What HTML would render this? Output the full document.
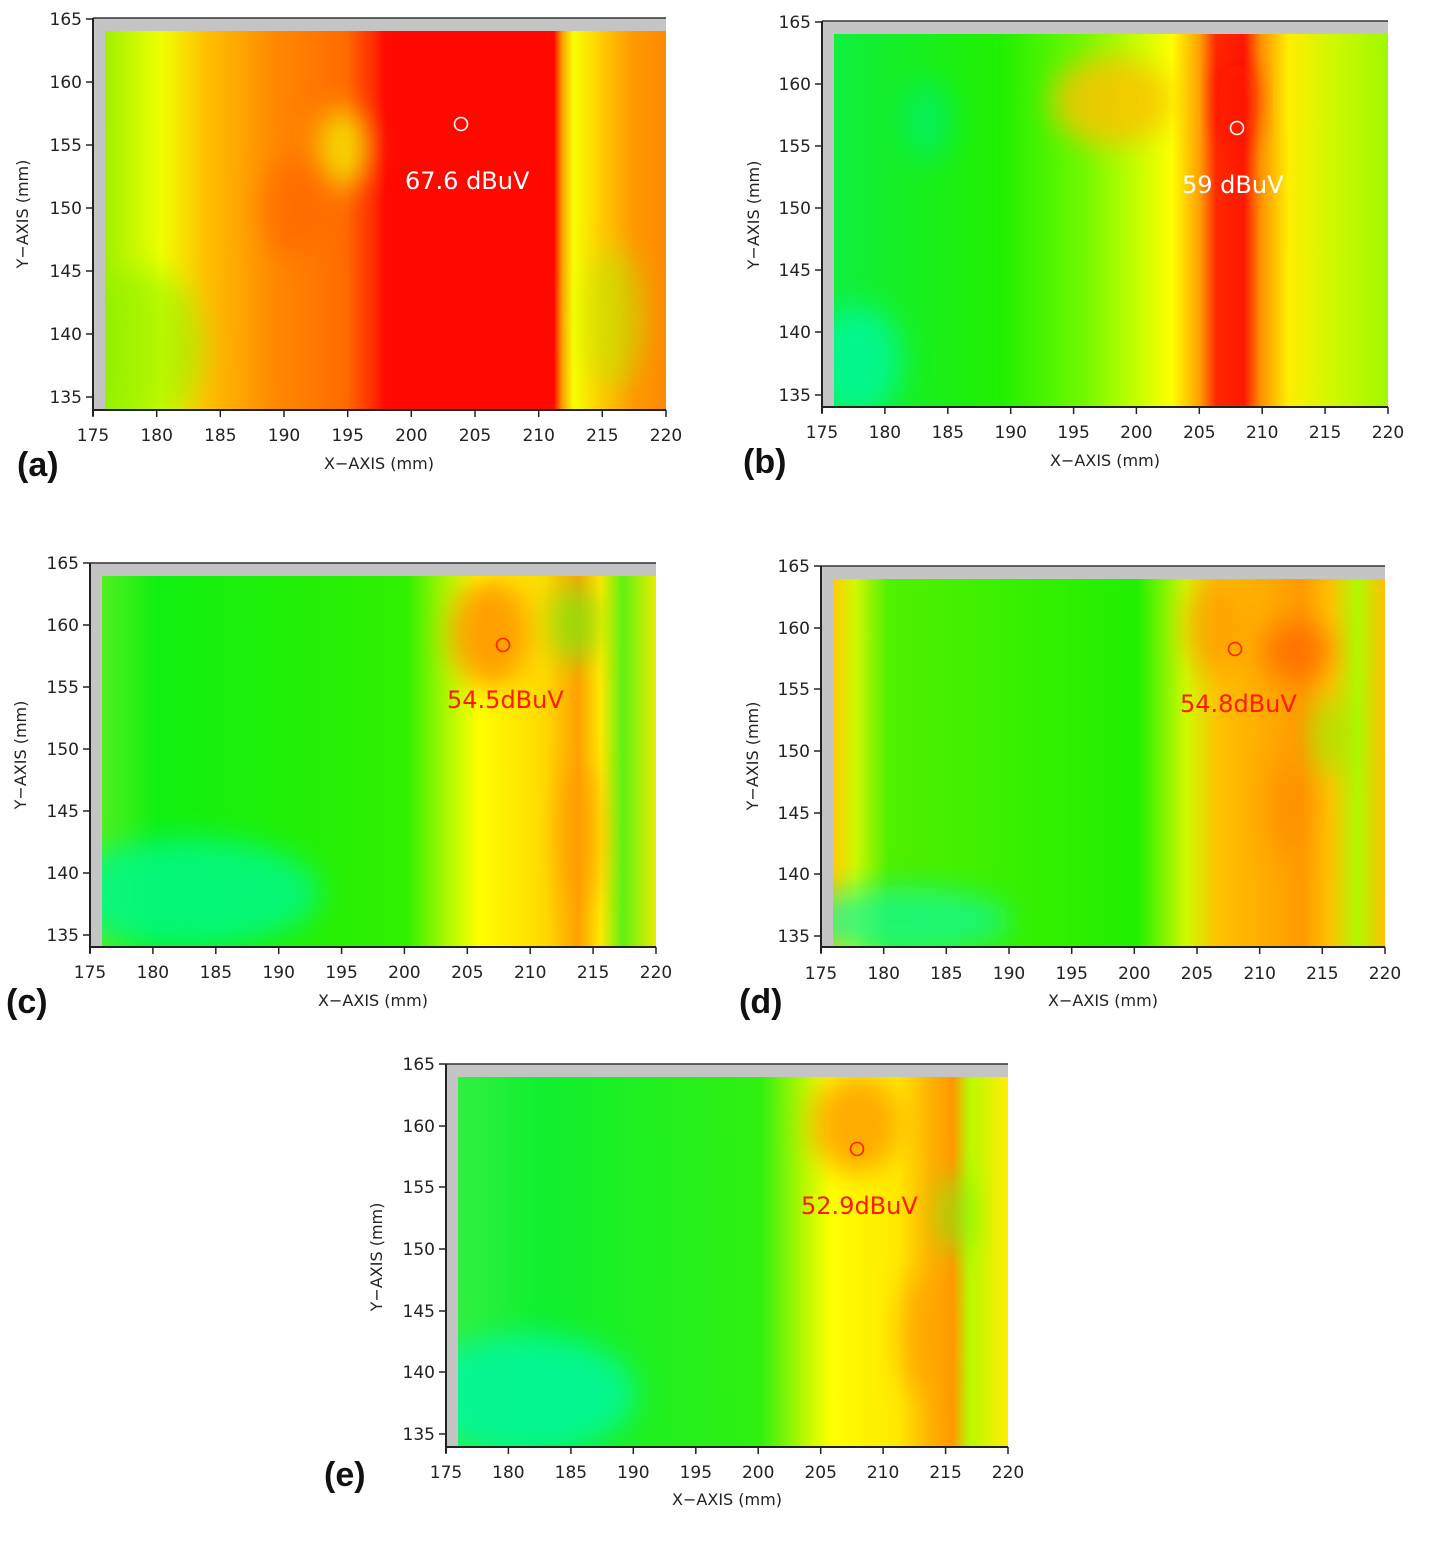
<!DOCTYPE html>
<html><head><meta charset="utf-8"><style>
html,body{margin:0;padding:0;background:#fff}
svg text{font-family:"DejaVu Sans","Liberation Sans",sans-serif}
.t{font-size:17px;fill:#222}
.at{font-size:16px;fill:#222}
.pl{font-family:"Liberation Sans",sans-serif;font-size:34px;fill:#111;font-weight:bold}
</style></head><body>
<svg width="1440" height="1548" xmlns="http://www.w3.org/2000/svg">
<defs>
<filter id="bl" x="-50%" y="-50%" width="200%" height="200%"><feGaussianBlur stdDeviation="14"/></filter>
<linearGradient id="ga" x1="0" x2="1" y1="0" y2="0">
<stop offset="0" stop-color="#a0f000"/><stop offset="0.1" stop-color="#f0ff00"/><stop offset="0.18" stop-color="#ffc000"/>
<stop offset="0.3" stop-color="#ff8a00"/><stop offset="0.43" stop-color="#ff6a00"/><stop offset="0.48" stop-color="#ff2a00"/>
<stop offset="0.5" stop-color="#ff0800"/><stop offset="0.8" stop-color="#ff0800"/><stop offset="0.815" stop-color="#ffa000"/>
<stop offset="0.835" stop-color="#f8ff00"/><stop offset="0.88" stop-color="#ffd000"/><stop offset="0.94" stop-color="#ff9a00"/><stop offset="1" stop-color="#ff8800"/>
</linearGradient>
<linearGradient id="gb" x1="0" x2="1" y1="0" y2="0">
<stop offset="0" stop-color="#10f040"/><stop offset="0.3" stop-color="#20f000"/><stop offset="0.45" stop-color="#70f800"/>
<stop offset="0.55" stop-color="#c8ff00"/><stop offset="0.61" stop-color="#ffff00"/><stop offset="0.66" stop-color="#ffa000"/>
<stop offset="0.69" stop-color="#ff2800"/><stop offset="0.74" stop-color="#ff1800"/><stop offset="0.77" stop-color="#ff9000"/>
<stop offset="0.82" stop-color="#ffee00"/><stop offset="0.9" stop-color="#d0f800"/><stop offset="1" stop-color="#a0f800"/>
</linearGradient>
<linearGradient id="gc" x1="0" x2="1" y1="0" y2="0">
<stop offset="0" stop-color="#50f020"/><stop offset="0.1" stop-color="#10f010"/><stop offset="0.55" stop-color="#30f000"/>
<stop offset="0.62" stop-color="#a8f800"/><stop offset="0.68" stop-color="#ffff00"/><stop offset="0.8" stop-color="#ffd800"/>
<stop offset="0.86" stop-color="#ffa000"/><stop offset="0.9" stop-color="#ffe800"/><stop offset="0.94" stop-color="#60f010"/><stop offset="1" stop-color="#e8ee00"/>
</linearGradient>
<linearGradient id="gd" x1="0" x2="1" y1="0" y2="0">
<stop offset="0" stop-color="#ffcc00"/><stop offset="0.04" stop-color="#d0f800"/><stop offset="0.1" stop-color="#50f000"/>
<stop offset="0.55" stop-color="#20f000"/><stop offset="0.64" stop-color="#d0f800"/><stop offset="0.7" stop-color="#ffc000"/>
<stop offset="0.85" stop-color="#ff9a00"/><stop offset="0.9" stop-color="#ffc000"/><stop offset="0.95" stop-color="#b0f800"/><stop offset="1" stop-color="#ffc000"/>
</linearGradient>
<linearGradient id="ge" x1="0" x2="1" y1="0" y2="0">
<stop offset="0" stop-color="#30f040"/><stop offset="0.15" stop-color="#10f030"/><stop offset="0.55" stop-color="#30f010"/>
<stop offset="0.63" stop-color="#b8f800"/><stop offset="0.68" stop-color="#ffff00"/><stop offset="0.8" stop-color="#ffe800"/>
<stop offset="0.86" stop-color="#ffb000"/><stop offset="0.9" stop-color="#ff9800"/><stop offset="0.93" stop-color="#b8f800"/><stop offset="1" stop-color="#ffee00"/>
</linearGradient>
<clipPath id="ca"><rect x="12" y="13" width="561" height="379"/></clipPath>
<clipPath id="cb"><rect x="12" y="13" width="554" height="373"/></clipPath>
<clipPath id="cc"><rect x="12" y="13" width="554" height="371"/></clipPath>
<clipPath id="cd"><rect x="12" y="13" width="552" height="368"/></clipPath>
<clipPath id="ce"><rect x="12" y="13" width="550" height="370"/></clipPath>
</defs>

<!-- Panel a -->
<g transform="translate(93,18)">
<rect x="0" y="0" width="573" height="392" fill="#c4c4c4"/>
<rect x="12" y="13" width="561" height="379" fill="url(#ga)"/>
<g clip-path="url(#ca)">
<ellipse cx="50" cy="330" rx="60" ry="80" fill="#80f000" opacity="0.5" filter="url(#bl)"/>
<ellipse cx="250" cy="130" rx="25" ry="40" fill="#f4f000" opacity="0.8" filter="url(#bl)"/>
<ellipse cx="200" cy="190" rx="30" ry="50" fill="#ff6000" opacity="0.6" filter="url(#bl)"/>
<ellipse cx="520" cy="300" rx="30" ry="70" fill="#b0f000" opacity="0.5" filter="url(#bl)"/>
</g>
<line x1="0" y1="0" x2="573" y2="0" stroke="#333" stroke-width="1.5"/>
<line x1="0" y1="0" x2="0" y2="398" stroke="#222" stroke-width="2"/>
<line x1="0" y1="392" x2="573" y2="392" stroke="#222" stroke-width="2"/>
<circle cx="368" cy="106" r="6.5" fill="none" stroke="#fff" stroke-width="1.6"/>
<text x="312" y="171" font-size="24" fill="#fff" font-family="Liberation Sans,sans-serif">67.6 dBuV</text>
<g stroke="#222" stroke-width="1.5">
<line x1="0" y1="392" x2="0" y2="399"/><line x1="63.7" y1="392" x2="63.7" y2="399"/><line x1="127.3" y1="392" x2="127.3" y2="399"/><line x1="191" y1="392" x2="191" y2="399"/><line x1="254.7" y1="392" x2="254.7" y2="399"/><line x1="318.3" y1="392" x2="318.3" y2="399"/><line x1="382" y1="392" x2="382" y2="399"/><line x1="445.7" y1="392" x2="445.7" y2="399"/><line x1="509.3" y1="392" x2="509.3" y2="399"/><line x1="573" y1="392" x2="573" y2="399"/>
<line x1="-7" y1="1" x2="0" y2="1"/><line x1="-7" y1="64" x2="0" y2="64"/><line x1="-7" y1="127" x2="0" y2="127"/><line x1="-7" y1="190" x2="0" y2="190"/><line x1="-7" y1="253" x2="0" y2="253"/><line x1="-7" y1="316" x2="0" y2="316"/><line x1="-7" y1="379" x2="0" y2="379"/>
</g>
<g class="t" text-anchor="middle"><text x="0" y="423">175</text><text x="63.7" y="423">180</text><text x="127.3" y="423">185</text><text x="191" y="423">190</text><text x="254.7" y="423">195</text><text x="318.3" y="423">200</text><text x="382" y="423">205</text><text x="445.7" y="423">210</text><text x="509.3" y="423">215</text><text x="573" y="423">220</text></g>
<g class="t" text-anchor="end"><text x="-11" y="7">165</text><text x="-11" y="70">160</text><text x="-11" y="133">155</text><text x="-11" y="196">150</text><text x="-11" y="259">145</text><text x="-11" y="322">140</text><text x="-11" y="385">135</text></g>
<text class="at" x="286" y="451" text-anchor="middle">X−AXIS (mm)</text>
<text class="at" transform="translate(-65,196) rotate(-90)" text-anchor="middle">Y−AXIS (mm)</text>
<text class="pl" x="-76" y="458">(a)</text>
</g>

<!-- Panel b -->
<g transform="translate(822,21)">
<rect x="0" y="0" width="566" height="386" fill="#c4c4c4"/>
<rect x="12" y="13" width="554" height="373" fill="url(#gb)"/>
<g clip-path="url(#cb)">
<ellipse cx="35" cy="340" rx="45" ry="55" fill="#00f8a0" opacity="0.8" filter="url(#bl)"/>
<ellipse cx="290" cy="80" rx="60" ry="45" fill="#ffc000" opacity="0.8" filter="url(#bl)"/>
<ellipse cx="105" cy="100" rx="25" ry="40" fill="#00f070" opacity="0.7" filter="url(#bl)"/>
<ellipse cx="415" cy="80" rx="18" ry="40" fill="#ff1000" opacity="0.7" filter="url(#bl)"/>
</g>
<line x1="0" y1="0" x2="566" y2="0" stroke="#333" stroke-width="1.5"/>
<line x1="0" y1="0" x2="0" y2="392" stroke="#222" stroke-width="2"/>
<line x1="0" y1="386" x2="566" y2="386" stroke="#222" stroke-width="2"/>
<circle cx="415" cy="107" r="6.5" fill="none" stroke="#fff" stroke-width="1.6"/>
<text x="360" y="172" font-size="24" fill="#fff" font-family="Liberation Sans,sans-serif">59 dBuV</text>
<g stroke="#222" stroke-width="1.5">
<line x1="0" y1="386" x2="0" y2="393"/><line x1="62.9" y1="386" x2="62.9" y2="393"/><line x1="125.8" y1="386" x2="125.8" y2="393"/><line x1="188.7" y1="386" x2="188.7" y2="393"/><line x1="251.6" y1="386" x2="251.6" y2="393"/><line x1="314.4" y1="386" x2="314.4" y2="393"/><line x1="377.3" y1="386" x2="377.3" y2="393"/><line x1="440.2" y1="386" x2="440.2" y2="393"/><line x1="503.1" y1="386" x2="503.1" y2="393"/><line x1="566" y1="386" x2="566" y2="393"/>
<line x1="-7" y1="1" x2="0" y2="1"/><line x1="-7" y1="63" x2="0" y2="63"/><line x1="-7" y1="125" x2="0" y2="125"/><line x1="-7" y1="187" x2="0" y2="187"/><line x1="-7" y1="249" x2="0" y2="249"/><line x1="-7" y1="311" x2="0" y2="311"/><line x1="-7" y1="374" x2="0" y2="374"/>
</g>
<g class="t" text-anchor="middle"><text x="0" y="417">175</text><text x="62.9" y="417">180</text><text x="125.8" y="417">185</text><text x="188.7" y="417">190</text><text x="251.6" y="417">195</text><text x="314.4" y="417">200</text><text x="377.3" y="417">205</text><text x="440.2" y="417">210</text><text x="503.1" y="417">215</text><text x="566" y="417">220</text></g>
<g class="t" text-anchor="end"><text x="-11" y="7">165</text><text x="-11" y="69">160</text><text x="-11" y="131">155</text><text x="-11" y="193">150</text><text x="-11" y="255">145</text><text x="-11" y="317">140</text><text x="-11" y="380">135</text></g>
<text class="at" x="283" y="445" text-anchor="middle">X−AXIS (mm)</text>
<text class="at" transform="translate(-63,194) rotate(-90)" text-anchor="middle">Y−AXIS (mm)</text>
<text class="pl" x="-79" y="452">(b)</text>
</g>

<!-- Panel c -->
<g transform="translate(90,563)">
<rect x="0" y="0" width="566" height="384" fill="#c4c4c4"/>
<rect x="12" y="13" width="554" height="371" fill="url(#gc)"/>
<g clip-path="url(#cc)">
<ellipse cx="100" cy="330" rx="130" ry="55" fill="#00f890" opacity="0.8" filter="url(#bl)"/>
<ellipse cx="400" cy="70" rx="40" ry="55" fill="#ff9000" opacity="0.85" filter="url(#bl)"/>
<ellipse cx="490" cy="270" rx="20" ry="70" fill="#ff9a00" opacity="0.6" filter="url(#bl)"/>
<ellipse cx="485" cy="60" rx="25" ry="40" fill="#70f010" opacity="0.7" filter="url(#bl)"/>
</g>
<line x1="0" y1="0" x2="566" y2="0" stroke="#333" stroke-width="1.5"/>
<line x1="0" y1="0" x2="0" y2="390" stroke="#222" stroke-width="2"/>
<line x1="0" y1="384" x2="566" y2="384" stroke="#222" stroke-width="2"/>
<circle cx="413" cy="82" r="6.5" fill="none" stroke="#ff2000" stroke-width="1.6"/>
<text x="357" y="145" font-size="24" fill="#ff1a00" font-family="Liberation Sans,sans-serif">54.5dBuV</text>
<g stroke="#222" stroke-width="1.5">
<line x1="0" y1="384" x2="0" y2="391"/><line x1="62.9" y1="384" x2="62.9" y2="391"/><line x1="125.8" y1="384" x2="125.8" y2="391"/><line x1="188.7" y1="384" x2="188.7" y2="391"/><line x1="251.6" y1="384" x2="251.6" y2="391"/><line x1="314.4" y1="384" x2="314.4" y2="391"/><line x1="377.3" y1="384" x2="377.3" y2="391"/><line x1="440.2" y1="384" x2="440.2" y2="391"/><line x1="503.1" y1="384" x2="503.1" y2="391"/><line x1="566" y1="384" x2="566" y2="391"/>
<line x1="-7" y1="0" x2="0" y2="0"/><line x1="-7" y1="62" x2="0" y2="62"/><line x1="-7" y1="124" x2="0" y2="124"/><line x1="-7" y1="186" x2="0" y2="186"/><line x1="-7" y1="248" x2="0" y2="248"/><line x1="-7" y1="310" x2="0" y2="310"/><line x1="-7" y1="372" x2="0" y2="372"/>
</g>
<g class="t" text-anchor="middle"><text x="0" y="415">175</text><text x="62.9" y="415">180</text><text x="125.8" y="415">185</text><text x="188.7" y="415">190</text><text x="251.6" y="415">195</text><text x="314.4" y="415">200</text><text x="377.3" y="415">205</text><text x="440.2" y="415">210</text><text x="503.1" y="415">215</text><text x="566" y="415">220</text></g>
<g class="t" text-anchor="end"><text x="-11" y="6">165</text><text x="-11" y="68">160</text><text x="-11" y="130">155</text><text x="-11" y="192">150</text><text x="-11" y="254">145</text><text x="-11" y="316">140</text><text x="-11" y="378">135</text></g>
<text class="at" x="283" y="443" text-anchor="middle">X−AXIS (mm)</text>
<text class="at" transform="translate(-64,192) rotate(-90)" text-anchor="middle">Y−AXIS (mm)</text>
<text class="pl" x="-84" y="450">(c)</text>
</g>

<!-- Panel d -->
<g transform="translate(821,566)">
<rect x="0" y="0" width="564" height="381" fill="#c4c4c4"/>
<rect x="12" y="13" width="552" height="368" fill="url(#gd)"/>
<g clip-path="url(#cd)">
<ellipse cx="80" cy="355" rx="110" ry="35" fill="#10f8a0" opacity="0.7" filter="url(#bl)"/>
<ellipse cx="475" cy="85" rx="35" ry="30" fill="#ff6a00" opacity="0.8" filter="url(#bl)"/>
<ellipse cx="395" cy="60" rx="30" ry="50" fill="#ff9a00" opacity="0.7" filter="url(#bl)"/>
<ellipse cx="465" cy="240" rx="20" ry="50" fill="#ff8a00" opacity="0.6" filter="url(#bl)"/>
<ellipse cx="510" cy="170" rx="18" ry="40" fill="#90f000" opacity="0.7" filter="url(#bl)"/>
</g>
<line x1="0" y1="0" x2="564" y2="0" stroke="#333" stroke-width="1.5"/>
<line x1="0" y1="0" x2="0" y2="387" stroke="#222" stroke-width="2"/>
<line x1="0" y1="381" x2="564" y2="381" stroke="#222" stroke-width="2"/>
<circle cx="414" cy="83" r="6.5" fill="none" stroke="#ff2000" stroke-width="1.6"/>
<text x="359" y="146" font-size="24" fill="#ff1a00" font-family="Liberation Sans,sans-serif">54.8dBuV</text>
<g stroke="#222" stroke-width="1.5">
<line x1="0" y1="381" x2="0" y2="388"/><line x1="62.7" y1="381" x2="62.7" y2="388"/><line x1="125.3" y1="381" x2="125.3" y2="388"/><line x1="188" y1="381" x2="188" y2="388"/><line x1="250.7" y1="381" x2="250.7" y2="388"/><line x1="313.3" y1="381" x2="313.3" y2="388"/><line x1="376" y1="381" x2="376" y2="388"/><line x1="438.7" y1="381" x2="438.7" y2="388"/><line x1="501.3" y1="381" x2="501.3" y2="388"/><line x1="564" y1="381" x2="564" y2="388"/>
<line x1="-7" y1="0" x2="0" y2="0"/><line x1="-7" y1="62" x2="0" y2="62"/><line x1="-7" y1="123" x2="0" y2="123"/><line x1="-7" y1="185" x2="0" y2="185"/><line x1="-7" y1="247" x2="0" y2="247"/><line x1="-7" y1="308" x2="0" y2="308"/><line x1="-7" y1="370" x2="0" y2="370"/>
</g>
<g class="t" text-anchor="middle"><text x="0" y="413">175</text><text x="62.7" y="413">180</text><text x="125.3" y="413">185</text><text x="188" y="413">190</text><text x="250.7" y="413">195</text><text x="313.3" y="413">200</text><text x="376" y="413">205</text><text x="438.7" y="413">210</text><text x="501.3" y="413">215</text><text x="564" y="413">220</text></g>
<g class="t" text-anchor="end"><text x="-11" y="6">165</text><text x="-11" y="68">160</text><text x="-11" y="129">155</text><text x="-11" y="191">150</text><text x="-11" y="253">145</text><text x="-11" y="314">140</text><text x="-11" y="376">135</text></g>
<text class="at" x="282" y="440" text-anchor="middle">X−AXIS (mm)</text>
<text class="at" transform="translate(-63,190) rotate(-90)" text-anchor="middle">Y−AXIS (mm)</text>
<text class="pl" x="-82" y="447">(d)</text>
</g>

<!-- Panel e -->
<g transform="translate(446,1064)">
<rect x="0" y="0" width="562" height="383" fill="#c4c4c4"/>
<rect x="12" y="13" width="550" height="370" fill="url(#ge)"/>
<g clip-path="url(#ce)">
<ellipse cx="80" cy="330" rx="110" ry="60" fill="#00f8a8" opacity="0.8" filter="url(#bl)"/>
<ellipse cx="410" cy="60" rx="45" ry="50" fill="#ff9a00" opacity="0.8" filter="url(#bl)"/>
<ellipse cx="475" cy="270" rx="22" ry="60" fill="#ff9a00" opacity="0.6" filter="url(#bl)"/>
<ellipse cx="510" cy="150" rx="18" ry="40" fill="#80f010" opacity="0.7" filter="url(#bl)"/>
</g>
<line x1="0" y1="0" x2="562" y2="0" stroke="#333" stroke-width="1.5"/>
<line x1="0" y1="0" x2="0" y2="389" stroke="#222" stroke-width="2"/>
<line x1="0" y1="383" x2="562" y2="383" stroke="#222" stroke-width="2"/>
<circle cx="411" cy="85" r="6.5" fill="none" stroke="#ff2000" stroke-width="1.6"/>
<text x="355" y="150" font-size="24" fill="#ff1a00" font-family="Liberation Sans,sans-serif">52.9dBuV</text>
<g stroke="#222" stroke-width="1.5">
<line x1="0" y1="383" x2="0" y2="390"/><line x1="62.4" y1="383" x2="62.4" y2="390"/><line x1="124.9" y1="383" x2="124.9" y2="390"/><line x1="187.3" y1="383" x2="187.3" y2="390"/><line x1="249.8" y1="383" x2="249.8" y2="390"/><line x1="312.2" y1="383" x2="312.2" y2="390"/><line x1="374.7" y1="383" x2="374.7" y2="390"/><line x1="437.1" y1="383" x2="437.1" y2="390"/><line x1="499.6" y1="383" x2="499.6" y2="390"/><line x1="562" y1="383" x2="562" y2="390"/>
<line x1="-7" y1="0" x2="0" y2="0"/><line x1="-7" y1="62" x2="0" y2="62"/><line x1="-7" y1="123" x2="0" y2="123"/><line x1="-7" y1="185" x2="0" y2="185"/><line x1="-7" y1="247" x2="0" y2="247"/><line x1="-7" y1="308" x2="0" y2="308"/><line x1="-7" y1="370" x2="0" y2="370"/>
</g>
<g class="t" text-anchor="middle"><text x="0" y="414">175</text><text x="62.4" y="414">180</text><text x="124.9" y="414">185</text><text x="187.3" y="414">190</text><text x="249.8" y="414">195</text><text x="312.2" y="414">200</text><text x="374.7" y="414">205</text><text x="437.1" y="414">210</text><text x="499.6" y="414">215</text><text x="562" y="414">220</text></g>
<g class="t" text-anchor="end"><text x="-11" y="6">165</text><text x="-11" y="68">160</text><text x="-11" y="129">155</text><text x="-11" y="191">150</text><text x="-11" y="253">145</text><text x="-11" y="314">140</text><text x="-11" y="376">135</text></g>
<text class="at" x="281" y="441" text-anchor="middle">X−AXIS (mm)</text>
<text class="at" transform="translate(-64,193) rotate(-90)" text-anchor="middle">Y−AXIS (mm)</text>
<text class="pl" x="-122" y="422">(e)</text>
</g>
</svg>
</body></html>
